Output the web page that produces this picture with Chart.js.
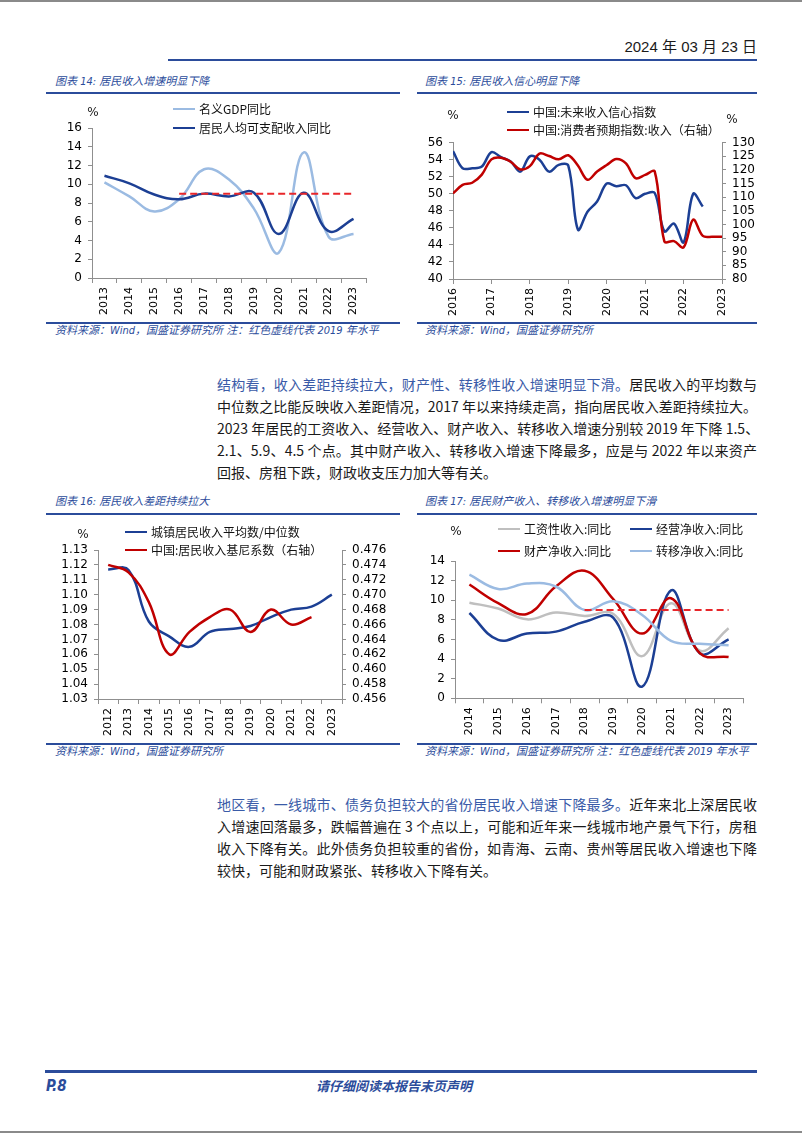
<!DOCTYPE html>
<html lang="zh-CN">
<head>
<meta charset="utf-8">
<title>P.8 居民收入</title>
<script src="https://cdn.jsdelivr.net/npm/chart.js@4.4.1/dist/chart.umd.min.js"></script>
<style>
  html, body { margin: 0; padding: 0; background: #fff; }
  body { width: 802px; height: 1133px; position: relative; overflow: hidden; font-family: "Noto Sans CJK SC", sans-serif; color: #1a1a1a; }
  .rule { position: absolute; background: #2b4c9b; }
  .cap { position: absolute; font-family: "DejaVu Sans Condensed", "DejaVu Sans", "Noto Sans CJK SC", sans-serif; font-size: 11px; font-style: italic; color: #2b4c9b; white-space: nowrap; line-height: 14px; }
  .box { position: absolute; }
  .unit { position: absolute; font: 12px "DejaVu Sans", sans-serif; line-height: 14px; transform: translateX(-50%); }
  .lg { position: absolute; display: flex; align-items: center; font-size: 12px; line-height: 16px; white-space: nowrap; color: #111; }
  .lg i { display: inline-block; width: 22px; height: 2.5px; margin-right: 4px; }
  .para { position: absolute; left: 217px; width: 540px; font-size: 14px; }
  .para div { height: 22px; line-height: 22px; white-space: nowrap; text-align: justify; text-align-last: justify; }
  .para div.last { text-align-last: left; }
  .hl { color: #3a5ba8; }
</style>
</head>
<body>

<!-- 页眉 -->
<div style="position:absolute;left:0;top:0;width:802px;height:2px;background:#8a8a8a"></div>
<div style="position:absolute;right:45px;top:38px;font:15px 'Liberation Sans Narrow','Liberation Sans','Noto Sans CJK SC';line-height:18px;">2024 年 03 月 23 日</div>
<div class="rule" style="left:168px;top:59px;width:589px;height:2px"></div>

<!-- 图表标题 -->
<div class="cap" style="left:55px;top:75px">图表 14: 居民收入增速明显下降</div>
<div class="cap" style="left:425px;top:75px">图表 15: 居民收入信心明显下降</div>
<div class="rule" style="left:46px;top:92px;width:354px;height:1.5px"></div>
<div class="rule" style="left:417px;top:92px;width:340px;height:1.5px"></div>

<div class="rule" style="left:46px;top:322px;width:354px;height:1.5px"></div>
<div class="rule" style="left:417px;top:322px;width:340px;height:1.5px"></div>
<div class="cap" style="left:55px;top:324px">资料来源：Wind，国盛证券研究所 注：红色虚线代表 2019 年水平</div>
<div class="cap" style="left:425px;top:324px">资料来源：Wind，国盛证券研究所</div>

<div class="box" id="box14" style="left:40px;top:96px;width:360px;height:222px"><canvas id="chart14"></canvas></div>
<div class="box" id="box15" style="left:417px;top:96px;width:340px;height:222px"><canvas id="chart15"></canvas></div>

<div class="unit" style="left:93px;top:105px">%</div>
<div class="unit" style="left:453px;top:108px">%</div>
<div class="unit" style="left:732px;top:112px">%</div>

<!-- 正文一 -->
<div class="para" style="top:373px">
  <div><span class="hl">结构看，收入差距持续拉大，财产性、转移性收入增速明显下滑。</span>居民收入的平均数与</div>
  <div>中位数之比能反映收入差距情况，2017 年以来持续走高，指向居民收入差距持续拉大。</div>
  <div>2023 年居民的工资收入、经营收入、财产收入、转移收入增速分别较 2019 年下降 1.5、</div>
  <div>2.1、5.9、4.5 个点。其中财产收入、转移收入增速下降最多，应是与 2022 年以来资产</div>
  <div class="last">回报、房租下跌，财政收支压力加大等有关。</div>
</div>

<div class="cap" style="left:55px;top:495px">图表 16: 居民收入差距持续拉大</div>
<div class="cap" style="left:425px;top:495px">图表 17: 居民财产收入、转移收入增速明显下滑</div>
<div class="rule" style="left:46px;top:513px;width:354px;height:1.5px"></div>
<div class="rule" style="left:417px;top:513px;width:340px;height:1.5px"></div>

<div class="rule" style="left:46px;top:743px;width:354px;height:1.5px"></div>
<div class="rule" style="left:417px;top:743px;width:340px;height:1.5px"></div>
<div class="cap" style="left:55px;top:745px">资料来源：Wind，国盛证券研究所</div>
<div class="cap" style="left:425px;top:745px">资料来源：Wind，国盛证券研究所 注：红色虚线代表 2019 年水平</div>

<div class="box" id="box16" style="left:40px;top:517px;width:360px;height:224px"><canvas id="chart16"></canvas></div>
<div class="box" id="box17" style="left:417px;top:517px;width:340px;height:224px"><canvas id="chart17"></canvas></div>

<div class="unit" style="left:83px;top:527px">%</div>
<div class="unit" style="left:456px;top:524px">%</div>

<!-- 正文二 -->
<div class="para" style="top:793px">
  <div><span class="hl">地区看，一线城市、债务负担较大的省份居民收入增速下降最多。</span>近年来北上深居民收</div>
  <div>入增速回落最多，跌幅普遍在 3 个点以上，可能和近年来一线城市地产景气下行，房租</div>
  <div>收入下降有关。此外债务负担较重的省份，如青海、云南、贵州等居民收入增速也下降</div>
  <div class="last">较快，可能和财政紧张、转移收入下降有关。</div>
</div>

<!-- 页脚 -->
<div class="rule" style="left:45px;top:1070px;width:712px;height:2.5px"></div>
<div style="position:absolute;left:46px;top:1077px;font:italic bold 15px 'DejaVu Sans Condensed','DejaVu Sans';color:#2b4c9b">P.8</div>
<div style="position:absolute;left:316px;top:1077px;font:italic bold 13px 'Noto Sans CJK SC';color:#2b4c9b;line-height:18px">请仔细阅读本报告末页声明</div>
<div style="position:absolute;left:0;top:1131px;width:802px;height:2px;background:#8a8a8a"></div>

<script>
// ---- 图表14: 居民收入增速 ----
const years14 = ['2013', '2014', '2015', '2016', '2017', '2018', '2019', '2020', '2021', '2022', '2023'];
const gdpNominalYoY = [10.2, 8.7, 7.1, 8.4, 11.6, 10.5, 7.4, 2.7, 13.4, 4.4, 4.7];
const incomePerCapitaYoY = [10.9, 10.1, 8.9, 8.4, 9.0, 8.7, 9.1, 4.7, 9.1, 5.0, 6.3];
const level2019_14 = 9.0;
const dashFrom14 = 2016;

// ---- 图表15: 收入信心 (季度) ----
const confDates = [2016.00, 2016.25, 2016.50, 2016.75, 2017.00, 2017.25, 2017.50, 2017.75,
                   2018.00, 2018.25, 2018.50, 2018.75, 2019.00, 2019.25, 2019.50, 2019.75,
                   2020.00, 2020.25, 2020.50, 2020.75, 2021.00, 2021.25, 2021.50, 2021.75,
                   2022.00, 2022.25, 2022.50, 2022.75, 2023.00];
const incomeConfidence = [55.0, 53.0, 53.0, 53.2, 54.9, 54.3, 53.8, 52.6,
                          54.4, 54.0, 52.6, 53.4, 53.3, 45.8, 47.9, 49.1,
                          51.2, 50.9, 51.0, 49.5, 50.0, 50.1, 45.6, 46.5,
                          44.3, 50.0, 48.5];
const consumerIncomeExpect = [111.4, 114.5, 115.3, 118.3, 123.9, 124.5, 123.0, 120.2,
                              121.4, 126.0, 125.1, 123.9, 125.4, 121.6, 116.4, 119.4,
                              121.8, 124.0, 122.4, 117.0, 118.2, 119.4, 93.8, 93.9,
                              91.6, 101.8, 95.8, 95.5, 95.5];
const years15Ticks = [2016, 2023];

// ---- 图表16: 收入差距 ----
const years16 = ['2012', '2013', '2014', '2015', '2016', '2017', '2018', '2019', '2020', '2021', '2022', '2023'];
const meanToMedian = [1.117, 1.1166, 1.082, 1.072, 1.065, 1.075, 1.077, 1.079, 1.085, 1.090, 1.092, 1.100];
const giniIndex = [0.474, 0.473, 0.469, 0.462, 0.465, 0.467, 0.468, 0.465, 0.468, 0.466, 0.467, null];

// ---- 图表17: 分项收入增速 ----
const years17 = ['2014', '2015', '2016', '2017', '2018', '2019', '2020', '2021', '2022', '2023'];
const wageYoY = [9.75, 9.15, 8.05, 8.75, 8.4, 8.6, 4.3, 9.7, 4.85, 7.15];
const businessYoY = [8.7, 5.95, 6.6, 6.8, 7.8, 8.2, 1.2, 11.0, 4.6, 6.0];
const propertyYoY = [11.6, 9.7, 8.6, 11.4, 13.0, 10.1, 6.6, 10.2, 4.6, 4.2];
const transferYoY = [12.6, 11.15, 11.7, 11.4, 9.0, 9.9, 8.5, 5.85, 5.55, 5.4];
const level2019_17 = 9.0;
const dashFrom17 = 2018;

// 颜色
const NAVY = '#1c3f94';
const LIGHT = '#9bbbe2';
const RED = '#c00000';
const DASH_RED = '#e8262a';
const GRAY = '#bfbfbf';
const AXIS = '#8f8f8f';

Chart.defaults.animation = false;
Chart.defaults.devicePixelRatio = 1;
Chart.defaults.font.family = '"DejaVu Sans", sans-serif';
Chart.defaults.color = '#000';

// 按绘图区的页面坐标算出 padding 与轴宽
function frame(boxId, plot, hasRight) {
    const el = document.getElementById(boxId);
    const left = parseFloat(el.style.left), top = parseFloat(el.style.top);
    const w = parseFloat(el.style.width), h = parseFloat(el.style.height);
    return {
        leftW: plot.l - left,
        rightW: hasRight ? left + w - plot.r : 0,
        padRight: hasRight ? 0 : left + w - plot.r,
        padTop: plot.t - top,
        xH: top + h - plot.b
    };
}

function yAxis(pos, min, max, step, width, digits, size) {
    return {
        position: pos, min, max,
        grid: { drawOnChartArea: false, drawTicks: true, tickLength: 4, color: AXIS },
        border: { display: true, color: AXIS },
        ticks: {
            stepSize: step, autoSkip: false, padding: 6,
            font: { size, lineHeight: 1 },
            callback: v => Number(v).toFixed(digits)
        },
        afterFit: s => { s.width = width; }
    };
}

function xCategory(height) {
    return {
        offset: true,
        grid: { offset: true, drawOnChartArea: false, tickLength: 5, color: AXIS },
        border: { display: true, color: AXIS },
        ticks: { minRotation: 90, maxRotation: 90, autoSkip: false, padding: 4, font: { size: 11 } },
        afterFit: s => { s.height = height; }
    };
}

function line(label, data, color, order, extra) {
    return Object.assign({
        label, data, borderColor: color, backgroundColor: color,
        borderWidth: 2.5, pointRadius: 0, tension: 0.4, fill: false, order
    }, extra || {});
}

function dashed(labels, level, from) {
    return {
        label: '2019年水平', data: labels.map(y => Number(y) >= from ? level : null),
        borderColor: DASH_RED, borderWidth: 2, borderDash: [7, 4], pointRadius: 0,
        tension: 0, fill: false, order: 0, hideInLegend: true
    };
}

function baseOptions(f, scales) {
    return {
        responsive: true, maintainAspectRatio: false,
        layout: { padding: { top: f.padTop, right: f.padRight, left: 0, bottom: 0 } },
        plugins: { legend: { display: false }, tooltip: { enabled: false } },
        scales
    };
}

// 图例：用 HTML 写在图上方
function htmlLegend(chart, spots) {
    chart.data.datasets.filter(d => !d.hideInLegend).forEach((d, i) => {
        const el = document.createElement('div');
        el.className = 'lg';
        el.style.left = spots[i][0] + 'px';
        el.style.top = (spots[i][1] - 8) + 'px';
        el.innerHTML = `<i style="background:${d.borderColor}"></i>${d.label}`;
        document.body.appendChild(el);
    });
}

// 图表14
const f14 = frame('box14', { l: 92, r: 366, t: 128, b: 278 }, false);
const chart14 = new Chart(document.getElementById('chart14'), {
    type: 'line',
    data: {
        labels: years14,
        datasets: [
            line('名义GDP同比', gdpNominalYoY, LIGHT, 2),
            line('居民人均可支配收入同比', incomePerCapitaYoY, NAVY, 1),
            dashed(years14, level2019_14, dashFrom14)
        ]
    },
    options: baseOptions(f14, {
        x: xCategory(f14.xH),
        y: yAxis('left', 0, 16, 2, f14.leftW, 0, 12)
    })
});
htmlLegend(chart14, [[173, 109], [173, 128]]);

// 图表15
const f15 = frame('box15', { l: 453, r: 722, t: 142.7, b: 279 }, true);
const xy = (xs, ys) => ys.map((v, i) => ({ x: xs[i], y: v }));
const chart15 = new Chart(document.getElementById('chart15'), {
    type: 'line',
    data: {
        datasets: [
            line('中国:未来收入信心指数', xy(confDates, incomeConfidence), NAVY, 2, { yAxisID: 'y', tension: 0.35 }),
            line('中国:消费者预期指数:收入（右轴）', xy(confDates, consumerIncomeExpect), RED, 1, { yAxisID: 'y1', tension: 0.35 })
        ]
    },
    options: baseOptions(f15, {
        x: {
            type: 'linear', min: years15Ticks[0], max: years15Ticks[1],
            grid: { drawOnChartArea: false, tickLength: 5, color: AXIS },
            border: { display: true, color: AXIS },
            ticks: { stepSize: 1, autoSkip: false, minRotation: 90, maxRotation: 90, padding: 4, font: { size: 11 }, callback: v => String(v) },
            afterFit: s => { s.height = f15.xH; }
        },
        y: yAxis('left', 40, 56, 2, f15.leftW, 0, 12),
        y1: yAxis('right', 80, 130, 5, f15.rightW, 0, 12)
    })
});
htmlLegend(chart15, [[507, 112], [507, 130]]);

// 图表16
const f16 = frame('box16', { l: 98, r: 342, t: 550, b: 699 }, true);
const chart16 = new Chart(document.getElementById('chart16'), {
    type: 'line',
    data: {
        labels: years16,
        datasets: [
            line('城镇居民收入平均数/中位数', meanToMedian, NAVY, 2, { yAxisID: 'y' }),
            line('中国:居民收入基尼系数（右轴）', giniIndex, RED, 1, { yAxisID: 'y1' })
        ]
    },
    options: baseOptions(f16, {
        x: xCategory(f16.xH),
        y: yAxis('left', 1.03, 1.13, 0.01, f16.leftW, 2, 12),
        y1: yAxis('right', 0.456, 0.476, 0.002, f16.rightW, 3, 12)
    })
});
htmlLegend(chart16, [[125, 532], [125, 550]]);

// 图表17
const f17 = frame('box17', { l: 455, r: 743, t: 561, b: 698.3 }, false);
const chart17 = new Chart(document.getElementById('chart17'), {
    type: 'line',
    data: {
        labels: years17,
        datasets: [
            line('工资性收入:同比', wageYoY, GRAY, 4),
            line('经营净收入:同比', businessYoY, NAVY, 3),
            line('财产净收入:同比', propertyYoY, RED, 2),
            line('转移净收入:同比', transferYoY, LIGHT, 1),
            dashed(years17, level2019_17, dashFrom17)
        ]
    },
    options: baseOptions(f17, {
        x: xCategory(f17.xH),
        y: yAxis('left', 0, 14, 2, f17.leftW, 0, 12)
    })
});
htmlLegend(chart17, [[498, 529], [630, 529], [498, 551], [630, 551]]);
</script>
</body>
</html>
